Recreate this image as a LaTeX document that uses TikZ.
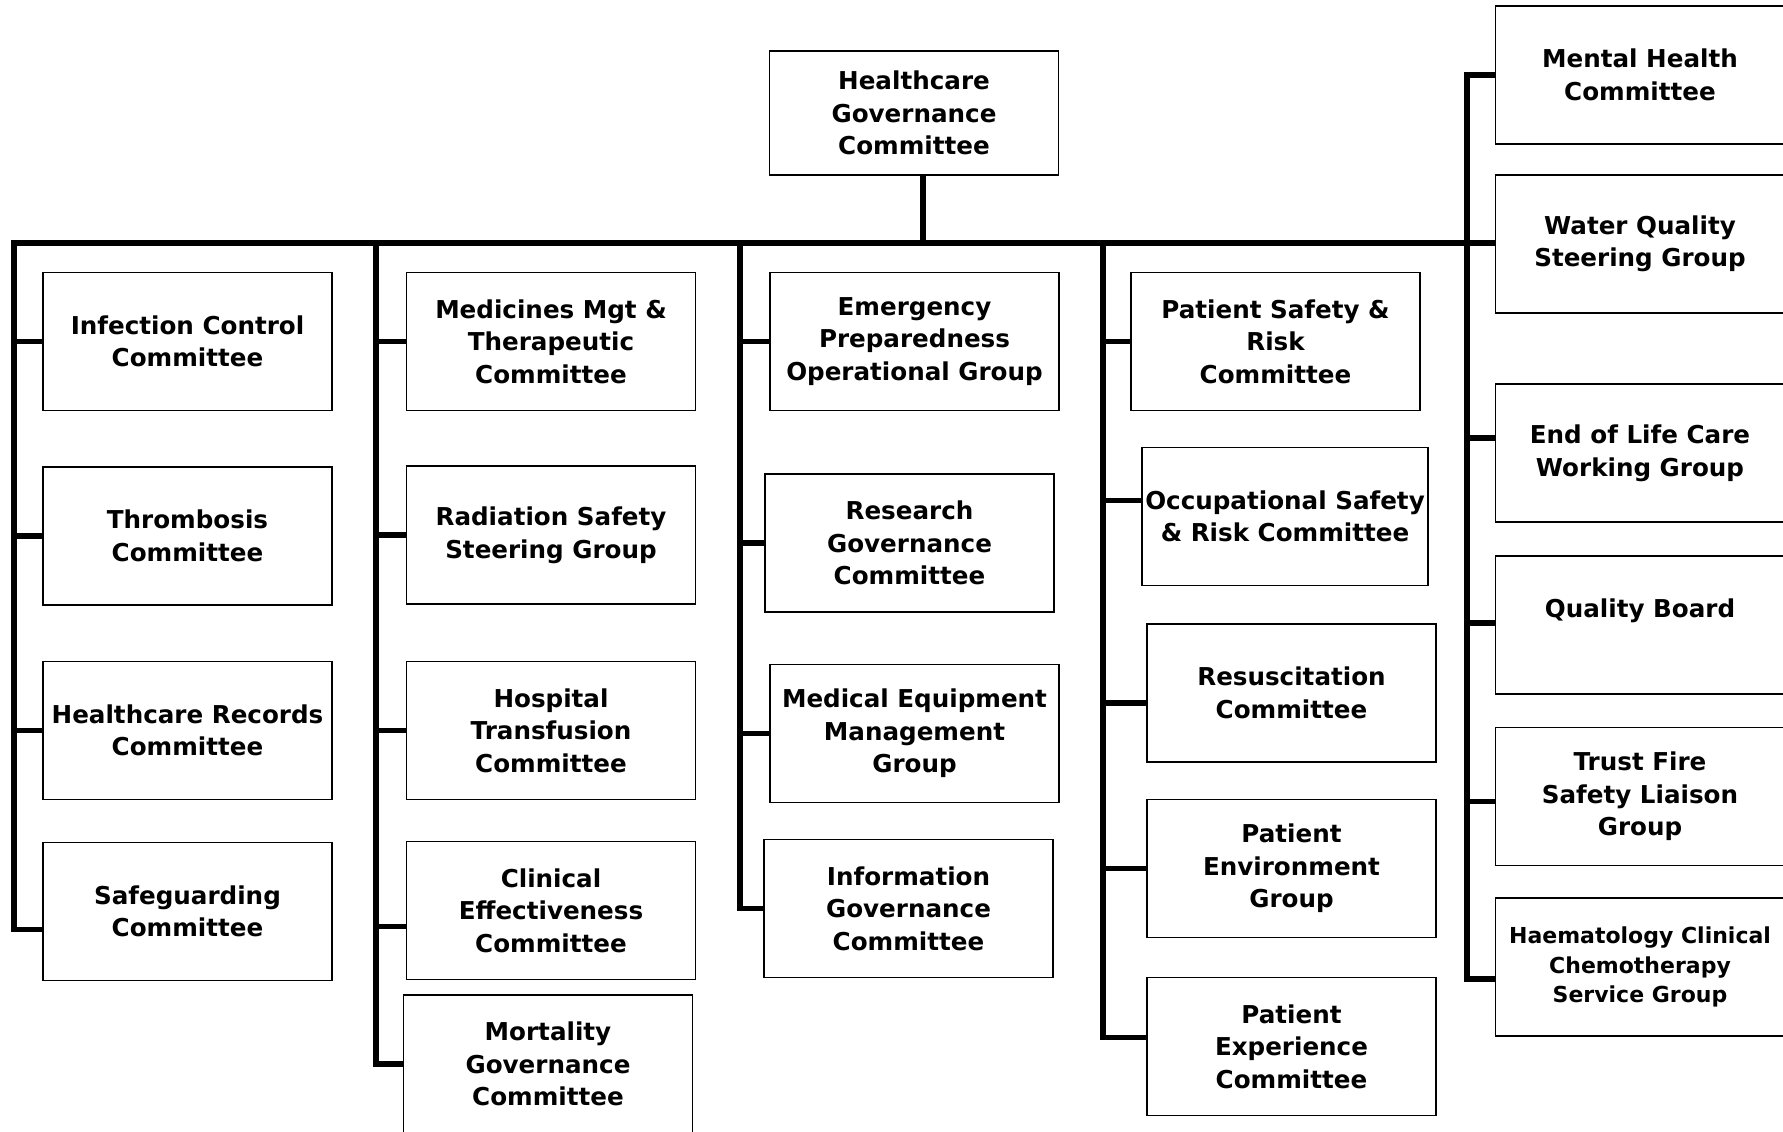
\documentclass[tikz,border=0pt]{standalone}
\usepackage{fontspec}
\setmainfont{DejaVu Sans}
\usetikzlibrary{calc}
\tikzset{
    commbox/.style={draw, line width=0.9pt, rectangle, inner sep=0pt,
        minimum width=144.5pt, minimum height=69pt, align=center,
        font=\fontsize{12.3}{16.3}\selectfont\bfseries},
    smallcomm/.style={commbox, font=\fontsize{11}{14.6}\selectfont\bfseries},
    treeline/.style={line width=2.6pt, line join=miter},
}
\begin{document}
\begin{tikzpicture}[x=0.5pt, y=-0.5pt]
            \useasboundingbox (0,0) rectangle (1783,1131);
            \clip (0,0) rectangle (1783,1131);
            \fill[white] (0,0) rectangle (1783,1131);
            \node[commbox, minimum height=62pt] (hgc) at (914,113)
                {Healthcare\\Governance\\Committee};
            \node[commbox] (inf) at (187.5,341.5) {Infection Control\\Committee};
            \node[commbox] (thr) at (187.5,536) {Thrombosis\\Committee};
            \node[commbox] (hcr) at (187.5,730.5) {Healthcare Records\\Committee};
            \node[commbox] (safe) at (187.5,911.5) {Safeguarding\\Committee};
            \node[commbox] (med) at (551,341.5) {Medicines Mgt \&\\Therapeutic\\Committee};
            \node[commbox] (rad) at (551,535) {Radiation Safety\\Steering Group};
            \node[commbox] (hosp) at (551,730.5) {Hospital\\Transfusion\\Committee};
            \node[commbox] (clin) at (551,910.5) {Clinical\\Effectiveness\\Committee};
            \node[commbox] (mort) at (548,1064) {Mortality\\Governance\\Committee};
            \node[commbox] (emer) at (914.5,341.5) {Emergency\\Preparedness\\Operational Group};
            \node[commbox] (res) at (909.5,543) {Research\\Governance\\Committee};
            \node[commbox] (meq) at (914.5,733.5) {Medical Equipment\\Management\\Group};
            \node[commbox] (info) at (908.5,908.5) {Information\\Governance\\Committee};
            \node[commbox] (psr) at (1275.5,341.5) {Patient Safety \&\\Risk\\Committee};
            \node[commbox, minimum width=143pt] (occ) at (1285,516.5)
                {Occupational Safety\\\& Risk Committee};
            \node[commbox] (resus) at (1291.5,693) {Resuscitation\\Committee};
            \node[commbox] (penv) at (1291.5,868.5) {Patient\\Environment\\Group};
            \node[commbox] (pexp) at (1291.5,1046.5) {Patient\\Experience\\Committee};
            \node[commbox] (mh) at (1640,75) {Mental Health\\Committee};
            \node[commbox] (wq) at (1640,244) {Water Quality\\Steering Group};
            \node[commbox] (eol) at (1640,453) {End of Life Care\\Working Group};
            \node[commbox] (qb) at (1640,625) {\raisebox{4pt}[0pt][0pt]{Quality Board}};
            \node[commbox] (tf) at (1640,796.5) {Trust Fire\\Safety Liaison\\Group};
            \node[smallcomm] (hae) at (1640,967) {Haematology Clinical\\Chemotherapy\\Service Group};
            \coordinate (bus1) at (14,243);
            \coordinate (bus2) at (376,243);
            \coordinate (bus3) at (740,243);
            \coordinate (bus4) at (1103,243);
            \coordinate (bus5) at (1467,243);
            \draw[treeline] ([xshift=4.5pt]hgc.south) -- ([xshift=4.5pt]hgc.south |- bus1);
            \draw[treeline] ([yshift=-9pt]safe.west) -| (bus1) -- (bus1 -| wq.west);
            \draw[treeline] (bus2) |- (mort.west);
            \draw[treeline] (bus3) |- (info.west);
            \draw[treeline] (bus4) |- ([yshift=4.5pt]pexp.west);
            \draw[treeline] (mh.west) -| (bus5) |- ([yshift=-6pt]hae.west);
            \foreach \col/\comm/\dy in {1/inf/0, 1/thr/0, 1/hcr/0, 2/med/0, 2/rad/0,
                2/hosp/0, 2/clin/-8, 3/emer/0, 3/res/0, 3/meq/0, 4/psr/0,
                4/occ/8, 4/resus/-5, 4/penv/0, 5/eol/7.5, 5/qb/1, 5/tf/-2.5}{
                \draw[treeline] (bus\col |- {$(\comm.west)+(0,-2*\dy)$})
                    -- ([yshift=\dy pt]\comm.west);
            }
        \end{tikzpicture}
\end{document}
